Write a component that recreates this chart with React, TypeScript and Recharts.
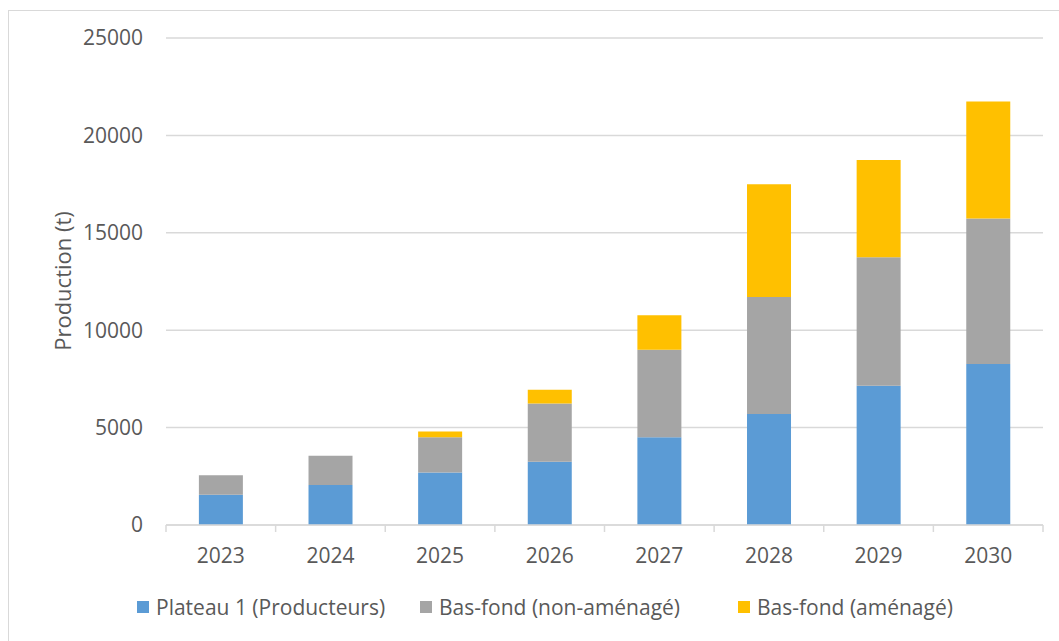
import React from 'react';
import { BarChart, Bar, XAxis, YAxis, CartesianGrid, Legend } from 'recharts';

const years = ['2023', '2024', '2025', '2026', '2027', '2028', '2029', '2030'];
const plateau = [1550, 2050, 2700, 3250, 4500, 5700, 7150, 8260];
const basFondNon = [1000, 1500, 1800, 2990, 4500, 6000, 6600, 7480];
const basFondAm = [0, 0, 300, 700, 1770, 5790, 4990, 6000];
const yTicks = [0, 5000, 10000, 15000, 20000, 25000];

const seriesNames = ['Plateau 1 (Producteurs)', 'Bas-fond (non-aménagé)', 'Bas-fond (aménagé)'];
const colors = ['#5B9BD5', '#A5A5A5', '#FFC000'];
const legendLeft = [137, 420, 738];

const data = years.map((y, i) => ({
  year: y,
  p: plateau[i],
  n: basFondNon[i],
  a: basFondAm[i],
}));

const FONT = '"Open Sans", sans-serif';
const TXT = '#595959';
const GRID = '#d9d9d9';
const FS = 21;
const W = 1059;
const H = 641;
const PLOT_LEFT = 166;
const PLOT_RIGHT = 1043;
const BAND = (PLOT_RIGHT - PLOT_LEFT) / years.length;

const XTick = (props: any) => {
  const { x, y, payload, index } = props;
  const axisY = y - 10;
  const left = x - BAND / 2;
  const right = x + BAND / 2;
  return (
    <g>
      <line x1={left} y1={axisY} x2={left} y2={axisY + 7} stroke={GRID} strokeWidth={1.5} />
      {index === years.length - 1 && (
        <line x1={right} y1={axisY} x2={right} y2={axisY + 7} stroke={GRID} strokeWidth={1.5} />
      )}
      <text x={x} y={axisY + 30} textAnchor="middle" dominantBaseline="central" fill={TXT} fontSize={FS} fontFamily={FONT}>
        {payload.value}
      </text>
    </g>
  );
};

const LegendContent = () => (
  <div style={{ position: 'relative', fontFamily: FONT, fontSize: FS, color: TXT, height: 30 }}>
    {seriesNames.map((n, i) => (
      <div key={n} style={{ position: 'absolute', left: legendLeft[i], top: 0, height: 30, display: 'flex', alignItems: 'center', whiteSpace: 'nowrap' }}>
        <span style={{ width: 12, height: 12, background: colors[i], display: 'inline-block', marginRight: 7 }} />
        <span>{n}</span>
      </div>
    ))}
  </div>
);

export default function App() {
  return (
    <div style={{ position: 'absolute', left: 0, top: 0, width: W, height: H, overflow: 'hidden', background: '#fff' }}>
      <div style={{ position: 'absolute', left: 8, top: 10, width: 1200, height: 800, border: `1px solid ${GRID}`, boxSizing: 'border-box' }} />
      <div style={{ position: 'absolute', left: 0, top: 0 }}>
        <BarChart
          width={W}
          height={H}
          data={data}
          margin={{ top: 38, right: W - PLOT_RIGHT, bottom: 19, left: 0 }}
          barCategoryGap="30%"
        >
          <CartesianGrid horizontal vertical={false} stroke={GRID} strokeWidth={1.5} />
          <XAxis
            dataKey="year"
            height={67}
            axisLine={{ stroke: GRID, strokeWidth: 1.5 }}
            tickLine={false}
            tickSize={0}
            tickMargin={10}
            tick={<XTick />}
            interval={0}
          />
          <YAxis
            width={PLOT_LEFT}
            domain={[0, 25000]}
            ticks={yTicks}
            axisLine={false}
            tickLine={false}
            tickSize={8}
            tickMargin={15}
            tick={{ fill: TXT, fontSize: FS, fontFamily: FONT }}
            label={{
              content: () => (
                <text x={62} y={281} transform="rotate(-90 62 281)" textAnchor="middle" dominantBaseline="central" fill={TXT} fontSize={22} fontFamily={FONT}>
                  Production (t)
                </text>
              ),
            }}
          />
          <Legend verticalAlign="bottom" content={<LegendContent />} wrapperStyle={{ height: 30, width: W, left: 0 }} />
          <Bar dataKey="p" name={seriesNames[0]} stackId="s" fill={colors[0]} isAnimationActive={false} />
          <Bar dataKey="n" name={seriesNames[1]} stackId="s" fill={colors[1]} isAnimationActive={false} />
          <Bar dataKey="a" name={seriesNames[2]} stackId="s" fill={colors[2]} isAnimationActive={false} />
        </BarChart>
      </div>
    </div>
  );
}
